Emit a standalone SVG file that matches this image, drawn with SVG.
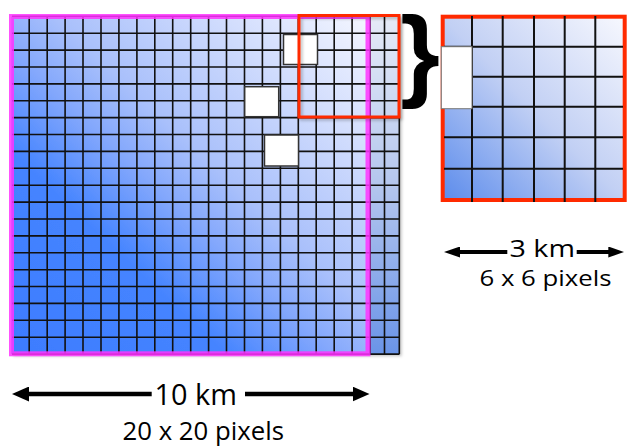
<svg xmlns="http://www.w3.org/2000/svg" width="627" height="446" viewBox="0 0 627 446">
  <defs>
    <linearGradient id="gBig" x1="0" y1="1" x2="1" y2="0">
      <stop offset="0" stop-color="#3d7cff"/>
      <stop offset="0.3" stop-color="#4584ff"/>
      <stop offset="0.45" stop-color="#84a8fc"/>
      <stop offset="0.56" stop-color="#a9c0fb"/>
      <stop offset="0.8" stop-color="#d3defd"/>
      <stop offset="1" stop-color="#f4f6ff"/>
    </linearGradient>
    <linearGradient id="gExtra" x1="0" y1="0" x2="0" y2="1">
      <stop offset="0" stop-color="#e6ebf7"/>
      <stop offset="0.5" stop-color="#b4c6ee"/>
      <stop offset="1" stop-color="#6a94e8"/>
    </linearGradient>
    <linearGradient id="gSmall" x1="0" y1="1" x2="1" y2="0">
      <stop offset="0" stop-color="#5c8cec"/>
      <stop offset="0.5" stop-color="#c2d0f4"/>
      <stop offset="1" stop-color="#f7f8fe"/>
    </linearGradient>
    <filter id="shadow" x="-5%" y="-5%" width="115%" height="115%">
      <feDropShadow dx="2" dy="2" stdDeviation="1.5" flood-color="#000" flood-opacity="0.25"/>
    </filter>
    <marker id="headBig" viewBox="0 0 17 15" refX="9" refY="7.5" markerWidth="17" markerHeight="15" markerUnits="userSpaceOnUse" orient="auto">
      <path d="M0,0 L17,7.5 L0,15 z" fill="#000"/>
    </marker>
    <marker id="headSmall" viewBox="0 0 16 11" refX="8" refY="5.5" markerWidth="16" markerHeight="11" markerUnits="userSpaceOnUse" orient="auto">
      <path d="M0,0 L16,5.5 L0,11 z" fill="#000"/>
    </marker>
  </defs>
  <style>
    .grid { stroke: #111; stroke-width: 1.6; fill: none; }
    .sgrid { stroke: #111; stroke-width: 2; fill: none; }
    .hole { fill: #fff; stroke: #333; stroke-width: 1.5; }
    .shole { fill: #fff; stroke: #777; stroke-width: 1; }
    .red { fill: none; stroke: #ff2a00; }
    .arrow { stroke: #000; fill: none; }
    .label { font-family: "Open Sans", "Liberation Sans", sans-serif; fill: #000; text-anchor: start; }
  </style>

  <g id="big-grid">
    <g filter="url(#shadow)">
      <rect x="11.3" y="16.3" width="358.7" height="337.8" fill="url(#gBig)"/>
      <rect x="370" y="16.3" width="29.5" height="337.8" fill="url(#gExtra)"/>
    </g>
    <path class="grid" d="M29.2,16.3V354.1M47.2,16.3V354.1M65.1,16.3V354.1M83,16.3V354.1M101,16.3V354.1M118.9,16.3V354.1M136.9,16.3V354.1M154.8,16.3V354.1M172.7,16.3V354.1M190.7,16.3V354.1M208.6,16.3V354.1M226.5,16.3V354.1M244.5,16.3V354.1M262.4,16.3V354.1M280.4,16.3V354.1M298.3,16.3V354.1M316.2,16.3V354.1M334.2,16.3V354.1M352.1,16.3V354.1M370,16.3V354.1M384.5,16.3V354.1M399.3,16.3V354.1"/>
    <path class="grid" d="M12,16.3H399.5M12,33.2H399.5M12,50.1H399.5M12,67H399.5M12,83.9H399.5M12,100.8H399.5M12,117.6H399.5M12,134.5H399.5M12,151.4H399.5M12,168.3H399.5M12,185.2H399.5M12,202.1H399.5M12,219H399.5M12,235.9H399.5M12,252.8H399.5M12,269.7H399.5M12,286.5H399.5M12,303.4H399.5M12,320.3H399.5M12,337.2H399.5M12,354.1H399.5"/>
  </g>

  <g id="magenta-box">
    <rect x="11.5" y="16.5" width="356.5" height="337.3" fill="none" stroke="#ff33ff" stroke-opacity="0.85" stroke-width="5"/>
  </g>

  <g id="missing-pixels">
    <rect class="hole" x="283.5" y="34.5" width="34" height="30"/>
    <rect class="hole" x="244.7" y="86.7" width="34" height="30"/>
    <rect class="hole" x="264.5" y="135" width="34" height="31"/>
  </g>

  <g id="red-box">
    <rect class="red" x="299" y="15.5" width="100" height="101.5" stroke-width="3" filter="url(#shadow)"/>
  </g>

  <g id="brace">
    <text x="420" y="88" font-family="Liberation Sans, Arial, sans-serif" font-size="102" font-weight="bold" text-anchor="middle" fill="#000">}</text>
  </g>

  <g id="zoom-grid">
    <rect x="442.7" y="16.7" width="182" height="183.3" fill="url(#gSmall)"/>
    <rect class="red" x="442.7" y="16.7" width="182" height="183.3" stroke-width="4"/>
    <path class="sgrid" d="M472,16V202M502.7,16V202M534,16V202M564.7,16V202M595.3,16V202"/>
    <path class="sgrid" d="M444,46.7H623M444,76.7H623M444,106.7H623M444,137.3H623M444,168.7H623"/>
    <rect class="shole" x="441.3" y="46.7" width="30.7" height="62"/>
  </g>

  <g id="connectors">
    <path class="arrow" d="M151.7,394H20" stroke-width="4.5" marker-end="url(#headBig)"/>
    <path class="arrow" d="M245,394H361.5" stroke-width="4.5" marker-end="url(#headBig)"/>
    <path class="arrow" d="M507.3,252H452" stroke-width="4" marker-end="url(#headSmall)"/>
    <path class="arrow" d="M576.7,252H616.3" stroke-width="4" marker-end="url(#headSmall)"/>
  </g>

  <g id="labels">
    <text class="label" x="154.5" y="405" font-size="30" textLength="82.5" lengthAdjust="spacingAndGlyphs">10 km</text>
    <text class="label" x="122.5" y="440" font-size="25" textLength="161.5" lengthAdjust="spacingAndGlyphs">20 x 20 pixels</text>
    <text class="label" x="509.5" y="257" font-size="23" textLength="65.5" lengthAdjust="spacingAndGlyphs">3 km</text>
    <text class="label" x="479.5" y="286" font-size="21" textLength="132" lengthAdjust="spacingAndGlyphs">6 x 6 pixels</text>
  </g>
</svg>
